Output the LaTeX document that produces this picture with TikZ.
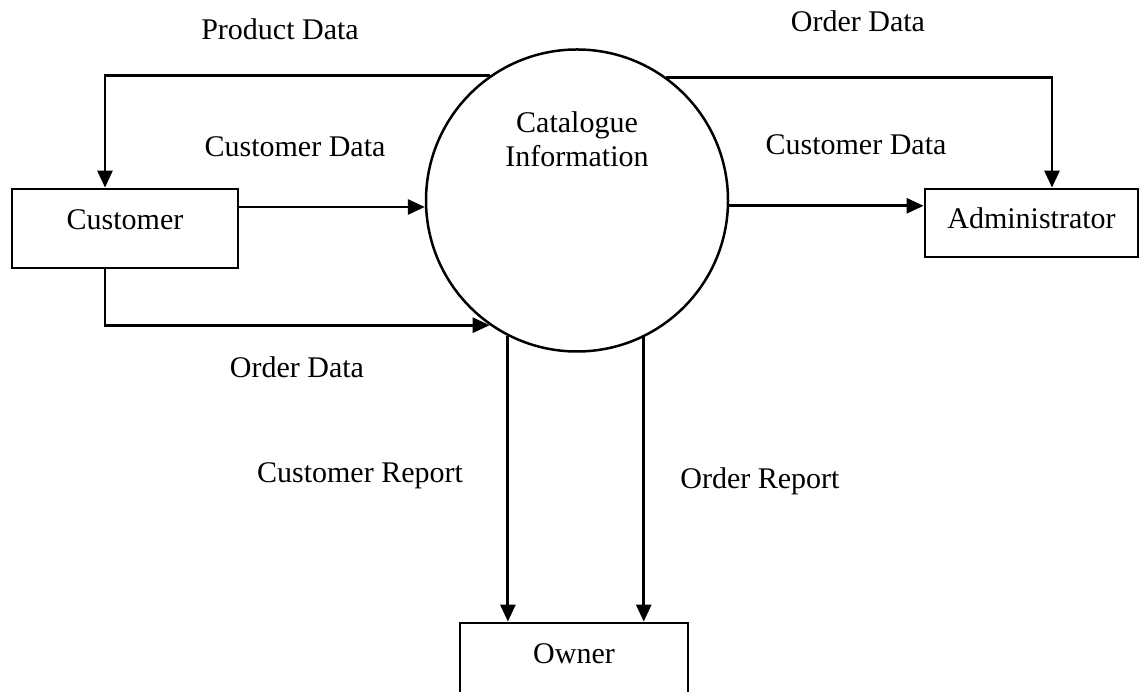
\documentclass[tikz,border=0pt]{standalone}
\usepackage{fontspec}
\setmainfont{Liberation Serif}
\usetikzlibrary{arrows.meta,calc}
\begin{document}
\begin{tikzpicture}[x=1pt,y=1pt,
  every node/.style={font=\fontsize{30}{34}\selectfont},
  entity/.style={draw, line width=2.8pt, rectangle, text height=20pt, inner sep=0pt},
  process/.style={draw, circle, line width=2.5pt, minimum size=302pt, inner sep=0pt},
  flow/.style={line width=2.8pt, -{Triangle[length=17pt,width=15pt]}},
  flowlabel/.style={anchor=base, inner sep=0pt}]
\useasboundingbox (0,0) rectangle (1145,692);

% external entities
\node[entity, minimum width=226pt, minimum height=79pt, text depth=17pt] (cust) at (125,463.5) {Customer};
\node[entity, minimum width=213pt, minimum height=68pt, text depth=8pt] (admin) at (1031.5,469) {Administrator};
\node[entity, minimum width=228pt, minimum height=87pt, text depth=25pt] (owner) at (574,25.5) {Owner};

% process
\node[process] (proc) at (577,491.5) {};
\node[anchor=base, align=center] (proctext) at (577,525) {Catalogue\\Information};

% data flows
\draw[flow] (proc.125.5) -| ([xshift=-20pt]cust.north);
\draw[flow] (proc.54.5) -| ([xshift=20.5pt]admin.north);
\coordinate (custout) at ([yshift=21.5pt]cust.east);
\draw[flow] (custout) -- (custout -| proc.182.66);
\coordinate (procout) at (proc.-2.66);
\draw[flow] (procout) -- (procout -| admin.west);
\draw[flow] ([xshift=-20pt]cust.south) |- (proc.235.5);
\draw[flow] (proc.243.66) -- (proc.243.66 |- owner.north);
\draw[flow] (proc.296.76) -- (proc.296.76 |- owner.north);

% flow labels
\node[flowlabel] (l1) at (280,652) {Product Data};
\node[flowlabel] (l2) at (858,660) {Order Data};
\node[flowlabel] (l3) at (295,535) {Customer Data};
\node[flowlabel] (l4) at (856,537) {Customer Data};
\node[flowlabel] (l5) at (297,314) {Order Data};
\node[flowlabel] (l6) at (360,209) {Customer Report};
\node[flowlabel] (l7) at (760,203) {Order Report};
\end{tikzpicture}
\end{document}
